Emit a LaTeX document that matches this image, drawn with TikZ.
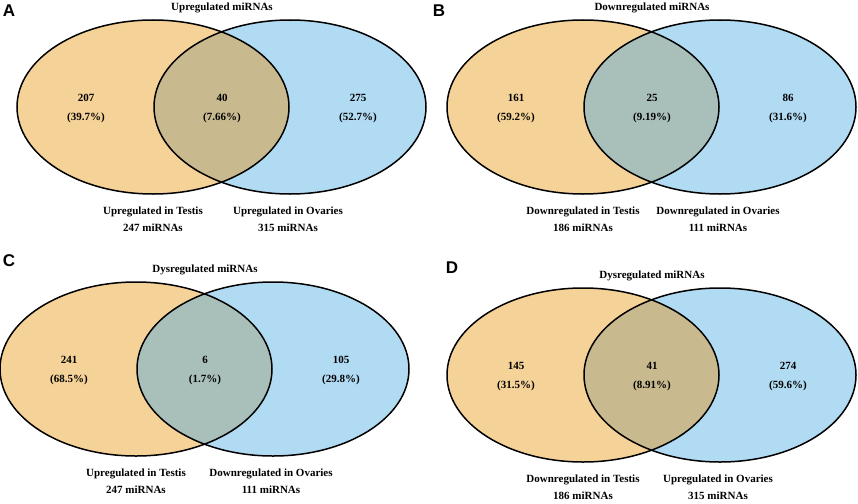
\documentclass[tikz,border=0pt]{standalone}
\usepackage{fontspec}
\setmainfont{Liberation Serif}
\setsansfont{Liberation Sans}
\usepackage{tikz}

\definecolor{testis}{HTML}{F5D297}
\definecolor{ovaries}{HTML}{B1DAF3}
\definecolor{bothUp}{HTML}{C8B98F}
\definecolor{bothDown}{HTML}{A9BFBA}

\begin{document}
\begin{tikzpicture}[x=1pt, y=-1pt,
    venn/.style={x radius=136pt, y radius=87pt},
    outline/.style={draw=black, line width=1.5pt},
    txt/.style={font=\bfseries\fontsize{11}{13}\selectfont, align=center, inner sep=0pt},
    letter/.style={font=\sffamily\bfseries\fontsize{17}{17}\selectfont, inner sep=0pt}]

        \useasboundingbox (0,0) rectangle (858,503);

        %% Panel A
        \begin{scope}
        \coordinate (Atestis) at (153,107);
        \coordinate (Aovaries) at (290,107);
        \fill[testis] (Atestis) ellipse [venn];
        \fill[ovaries] (Aovaries) ellipse [venn];
        \begin{scope}
            \clip (Atestis) ellipse [venn];
            \fill[bothUp] (Aovaries) ellipse [venn];
        \end{scope}
        \draw[outline] (Atestis) ellipse [venn];
        \draw[outline] (Aovaries) ellipse [venn];
        \node[letter] (Aletter) at (9,11) {A};
        \node[txt] (Atitle) at (222,8) {Upregulated miRNAs};
        \node[txt] (Aleft) at (86,109) {207\\[6pt](39.7\%)};
        \node[txt] (Amid) at (222,109) {40\\[6pt](7.66\%)};
        \node[txt] (Aright) at (358,109) {275\\[6pt](52.7\%)};
        \node[txt] (AtestisLabel) at (153,219) {Upregulated in Testis\\[4pt]247 miRNAs};
        \node[txt] (AovariesLabel) at (288,219) {Upregulated in Ovaries\\[4pt]315 miRNAs};
        \end{scope}

        %% Panel B
        \begin{scope}[shift={(430,0)}]
        \coordinate (Btestis) at (153,107);
        \coordinate (Bovaries) at (290,107);
        \fill[testis] (Btestis) ellipse [venn];
        \fill[ovaries] (Bovaries) ellipse [venn];
        \begin{scope}
            \clip (Btestis) ellipse [venn];
            \fill[bothDown] (Bovaries) ellipse [venn];
        \end{scope}
        \draw[outline] (Btestis) ellipse [venn];
        \draw[outline] (Bovaries) ellipse [venn];
        \node[letter] (Bletter) at (9,11) {B};
        \node[txt] (Btitle) at (222,8) {Downregulated miRNAs};
        \node[txt] (Bleft) at (86,109) {161\\[6pt](59.2\%)};
        \node[txt] (Bmid) at (222,109) {25\\[6pt](9.19\%)};
        \node[txt] (Bright) at (358,109) {86\\[6pt](31.6\%)};
        \node[txt] (BtestisLabel) at (153,219) {Downregulated in Testis\\[4pt]186 miRNAs};
        \node[txt] (BovariesLabel) at (288,219) {Downregulated in Ovaries\\[4pt]111 miRNAs};
        \end{scope}

        %% Panel C
        \begin{scope}[shift={(-17,262)}]
        \coordinate (Ctestis) at (153,107);
        \coordinate (Covaries) at (290,107);
        \fill[testis] (Ctestis) ellipse [venn];
        \fill[ovaries] (Covaries) ellipse [venn];
        \begin{scope}
            \clip (Ctestis) ellipse [venn];
            \fill[bothDown] (Covaries) ellipse [venn];
        \end{scope}
        \draw[outline] (Ctestis) ellipse [venn];
        \draw[outline] (Covaries) ellipse [venn];
        \node[letter] (Cletter) at (26,-1) {C};
        \node[txt] (Ctitle) at (222,8) {Dysregulated miRNAs};
        \node[txt] (Cleft) at (86,109) {241\\[6pt](68.5\%)};
        \node[txt] (Cmid) at (222,109) {6\\[6pt](1.7\%)};
        \node[txt] (Cright) at (358,109) {105\\[6pt](29.8\%)};
        \node[txt] (CtestisLabel) at (153,219) {Upregulated in Testis\\[4pt]247 miRNAs};
        \node[txt] (CovariesLabel) at (288,219) {Downregulated in Ovaries\\[4pt]111 miRNAs};
        \end{scope}

        %% Panel D
        \begin{scope}[shift={(430,268)}]
        \coordinate (Dtestis) at (153,107);
        \coordinate (Dovaries) at (290,107);
        \fill[testis] (Dtestis) ellipse [venn];
        \fill[ovaries] (Dovaries) ellipse [venn];
        \begin{scope}
            \clip (Dtestis) ellipse [venn];
            \fill[bothUp] (Dovaries) ellipse [venn];
        \end{scope}
        \draw[outline] (Dtestis) ellipse [venn];
        \draw[outline] (Dovaries) ellipse [venn];
        \node[letter] (Dletter) at (22,0) {D};
        \node[txt] (Dtitle) at (222,8) {Dysregulated miRNAs};
        \node[txt] (Dleft) at (86,109) {145\\[6pt](31.5\%)};
        \node[txt] (Dmid) at (222,109) {41\\[6pt](8.91\%)};
        \node[txt] (Dright) at (358,109) {274\\[6pt](59.6\%)};
        \node[txt] (DtestisLabel) at (153,219) {Downregulated in Testis\\[4pt]186 miRNAs};
        \node[txt] (DovariesLabel) at (288,219) {Upregulated in Ovaries\\[4pt]315 miRNAs};
        \end{scope}

    \end{tikzpicture}
\end{document}
